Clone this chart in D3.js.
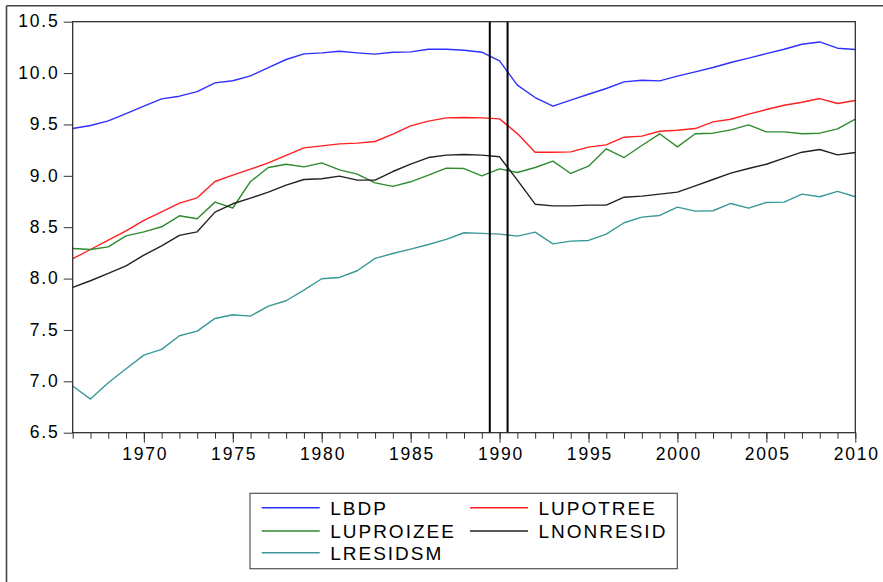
<!DOCTYPE html>
<html>
<head>
<meta charset="utf-8">
<script src="https://cdn.jsdelivr.net/npm/d3@7"></script>
<style>
  html, body { margin: 0; padding: 0; background: #fff; }
  svg { display: block; }
</style>
</head>
<body>
<svg id="chart" width="883" height="582"></svg>
<script>
const years = d3.range(1966, 2011);
const LBDP = [9.46, 9.49, 9.535, 9.606, 9.678, 9.749, 9.775, 9.82, 9.905, 9.925,
  9.973, 10.054, 10.132, 10.187, 10.197, 10.213, 10.197, 10.184, 10.202,
  10.206, 10.232, 10.232, 10.222, 10.203, 10.119, 9.882, 9.762,
  9.678, 9.736, 9.794, 9.85, 9.914, 9.93, 9.924, 9.97, 10.012,
  10.054, 10.103, 10.145, 10.19, 10.232, 10.281, 10.303, 10.242, 10.229];
const LUPOTREE = [8.193, 8.283, 8.374, 8.465, 8.566, 8.65, 8.734, 8.786, 8.945, 9.006,
  9.065, 9.126, 9.2, 9.272, 9.292, 9.311, 9.318, 9.334, 9.406,
  9.486, 9.532, 9.564, 9.567, 9.564, 9.554, 9.411, 9.23,
  9.23, 9.233, 9.279, 9.301, 9.376, 9.386, 9.434, 9.444, 9.46,
  9.525, 9.551, 9.6, 9.645, 9.687, 9.716, 9.752, 9.704, 9.733];
const LUPROIZEE = [8.293, 8.283, 8.309, 8.416, 8.455, 8.504, 8.611, 8.582, 8.744, 8.687,
  8.945, 9.081, 9.113, 9.087, 9.126, 9.058, 9.016, 8.932, 8.897,
  8.942, 9.006, 9.075, 9.071, 9.0, 9.068, 9.032, 9.081,
  9.143, 9.023, 9.094, 9.263, 9.178, 9.295, 9.409, 9.282, 9.409,
  9.415, 9.447, 9.496, 9.428, 9.428, 9.409, 9.415, 9.457, 9.551];
const LNONRESID = [7.914, 7.979, 8.05, 8.124, 8.228, 8.319, 8.42, 8.455, 8.647, 8.728,
  8.783, 8.841, 8.909, 8.964, 8.971, 8.997, 8.958, 8.958, 9.042,
  9.114, 9.178, 9.201, 9.207, 9.201, 9.185, 8.958, 8.724,
  8.708, 8.708, 8.715, 8.715, 8.792, 8.802, 8.822, 8.841, 8.903,
  8.964, 9.026, 9.071, 9.113, 9.172, 9.23, 9.256, 9.204, 9.227];
const LRESIDSM = [6.954, 6.827, 6.986, 7.123, 7.255, 7.311, 7.444, 7.489, 7.612, 7.648,
  7.635, 7.732, 7.784, 7.888, 7.998, 8.011, 8.076, 8.196, 8.244,
  8.287, 8.332, 8.381, 8.446, 8.44, 8.433, 8.413, 8.452,
  8.338, 8.364, 8.371, 8.433, 8.543, 8.598, 8.614, 8.695, 8.656,
  8.66, 8.731, 8.685, 8.741, 8.744, 8.822, 8.796, 8.848, 8.796];
const seriesNames = ["LBDP", "LUPOTREE", "LUPROIZEE", "LNONRESID", "LRESIDSM"];
const seriesColors = ["#2f2fff", "#ff2020", "#2e8b2e", "#222222", "#3a9898"];
const yTicks = [6.5, 7.0, 7.5, 8.0, 8.5, 9.0, 9.5, 10.0, 10.5];
const xMajorTicks = [1970, 1975, 1980, 1985, 1990, 1995, 2000, 2005, 2010];
const breakLines = [1989.45, 1990.45];

const seriesData = [LBDP, LUPOTREE, LUPROIZEE, LNONRESID, LRESIDSM];

const svg = d3.select("#chart");
const L = 72.7, R = 855.3, T = 21.7, B = 432.7;
const x = d3.scaleLinear().domain([1966, 2010]).range([L, R]);
const y = d3.scaleLinear().domain([6.5, 10.5]).range([B, T]);

// outer frame (top and left)
svg.append("line").attr("x1", 6.5).attr("x2", 883).attr("y1", 5.8).attr("y2", 5.8)
  .attr("stroke", "#444").attr("stroke-width", 1.6);
svg.append("line").attr("x1", 6.5).attr("x2", 6.5).attr("y1", 5.8).attr("y2", 582)
  .attr("stroke", "#444").attr("stroke-width", 1.6);

const font = "'Liberation Sans', Arial, sans-serif";

// y axis
const yAxis = d3.axisLeft(y).tickValues(yTicks).tickFormat(d3.format(".1f"))
  .tickSize(9).tickPadding(6);
const gy = svg.append("g").attr("transform", `translate(${L},0)`).call(yAxis);
gy.select(".domain").remove();
gy.selectAll(".tick line").attr("stroke", "#333");
gy.selectAll(".tick text").attr("font-family", font).attr("font-size", 17.5)
  .attr("letter-spacing", "1.8px").attr("fill", "#000").attr("dx", "1.8px").attr("dy", "0.3em");

// x axis minor
const xMinor = d3.axisBottom(x).tickValues(years).tickFormat("").tickSize(6);
const gxm = svg.append("g").attr("transform", `translate(0,${B})`).call(xMinor);
gxm.select(".domain").remove();
gxm.selectAll(".tick line").attr("stroke", "#333");
// x axis major
const xMajor = d3.axisBottom(x).tickValues(xMajorTicks).tickFormat(d3.format("d"))
  .tickSize(10).tickPadding(5);
const gx = svg.append("g").attr("transform", `translate(0,${B})`).call(xMajor);
gx.select(".domain").remove();
gx.selectAll(".tick line").attr("stroke", "#333");
gx.selectAll(".tick text").attr("font-family", font).attr("font-size", 17.5)
  .attr("letter-spacing", "1.8px").attr("fill", "#000").attr("dx", "0.9px");

// lines
const line = d3.line().x((d, i) => x(years[i])).y(d => y(d));
seriesData.forEach((s, k) => {
  svg.append("path").datum(s).attr("d", line).attr("fill", "none")
    .attr("stroke", seriesColors[k]).attr("stroke-width", 1.4)
    .attr("stroke-linejoin", "round");
});

// break lines
breakLines.forEach(v => {
  svg.append("line").attr("x1", x(v)).attr("x2", x(v)).attr("y1", T).attr("y2", B)
    .attr("stroke", "#000").attr("stroke-width", 2);
});

// plot frame
svg.append("rect").attr("x", L).attr("y", T).attr("width", R - L).attr("height", B - T)
  .attr("fill", "none").attr("stroke", "#222").attr("stroke-width", 1.2);

// legend
const lg = svg.append("g");
lg.append("rect").attr("x", 250).attr("y", 493.3).attr("width", 427.3).attr("height", 75.4)
  .attr("fill", "#fff").attr("stroke", "#555").attr("stroke-width", 1.2);
const legendPos = [[261.7, 507.7], [470, 507.7], [261.7, 531], [470, 531], [261.7, 552.7]];
seriesNames.forEach((n, k) => {
  const [lx, ly] = legendPos[k];
  lg.append("line").attr("x1", lx).attr("x2", lx + 58).attr("y1", ly).attr("y2", ly)
    .attr("stroke", seriesColors[k]).attr("stroke-width", 1.5);
  lg.append("text").attr("x", lx + 68.5).attr("y", ly + 6.8).text(n)
    .attr("font-family", font).attr("font-size", 19).attr("letter-spacing", "2px")
    .attr("fill", "#000");
});
</script>
</body>
</html>
